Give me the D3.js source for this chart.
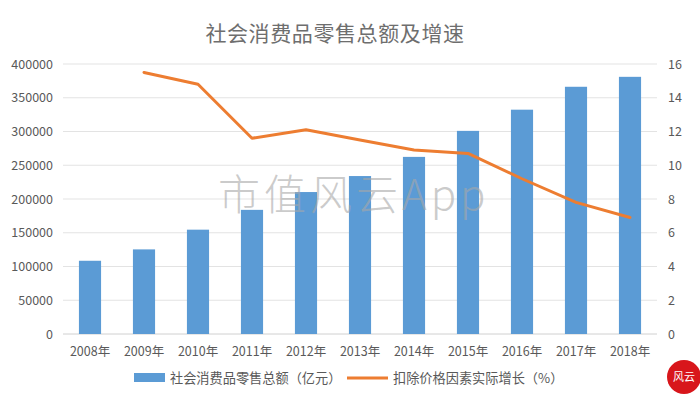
<!DOCTYPE html>
<html><head><meta charset="utf-8">
<script src="https://cdn.jsdelivr.net/npm/d3@7"></script>
<style>body{margin:0;background:#fff}svg{display:block}</style>
</head><body><div id="c"></div>
<script>
const years = ["2008年","2009年","2010年","2011年","2012年","2013年","2014年","2015年","2016年","2017年","2018年"];
const sales = [108488,125343,154554,183919,210307,234000,262394,300931,332316,366262,380987];
const growth = [null,15.5,14.8,11.6,12.1,11.5,10.9,10.7,9.2,7.8,6.9];
const leftTicks = [0,50000,100000,150000,200000,250000,300000,350000,400000];
const rightTicks = [0,2,4,6,8,10,12,14,16];
const title = "社会消费品零售总额及增速";
const legendLabels = ["社会消费品零售总额（亿元）","扣除价格因素实际增长（%）"];

const W=700,H=397;
const m={l:63,r:43,t:64,b:63};
const svg=d3.select("#c").append("svg").attr("width",W).attr("height",H);
const font="'Noto Sans CJK SC','Noto Sans',sans-serif";
const x=d3.scaleBand().domain(years).range([m.l,W-m.r]).paddingInner(0.59).paddingOuter(0.295);
const yL=d3.scaleLinear().domain([0,400000]).range([H-m.b,m.t]);
const yR=d3.scaleLinear().domain([0,16]).range([H-m.b,m.t]);

// grid
svg.append("g").selectAll("line").data(leftTicks).join("line")
  .attr("x1",m.l).attr("x2",W-m.r).attr("y1",d=>yL(d)).attr("y2",d=>yL(d))
  .attr("stroke",d=>d===0?"#d0d0d0":"#e3e3e3").attr("stroke-width",1);

// left axis
const gl=svg.append("g").attr("transform",`translate(${m.l-10},0)`)
  .call(d3.axisLeft(yL).tickValues(leftTicks).tickSize(0).tickPadding(0).tickFormat(d=>String(d)));
gl.select(".domain").remove();
gl.selectAll("text").attr("font-family",font).attr("font-size",12.5).attr("fill","#595959");

// right axis
const gr=svg.append("g").attr("transform",`translate(${W-m.r+11},0)`)
  .call(d3.axisRight(yR).tickValues(rightTicks).tickSize(0).tickPadding(0));
gr.select(".domain").remove();
gr.selectAll("text").attr("font-family",font).attr("font-size",12.5).attr("fill","#595959");

// bottom axis
const gb=svg.append("g").attr("transform",`translate(0,${H-m.b})`)
  .call(d3.axisBottom(x).tickSize(0).tickPadding(13));
gb.select(".domain").remove();
gb.selectAll("text").attr("font-family",font).attr("font-size",12.5).attr("fill","#595959");

// bars
svg.append("g").selectAll("rect").data(sales).join("rect")
  .attr("x",(d,i)=>x(years[i])).attr("width",x.bandwidth())
  .attr("y",d=>yL(d)).attr("height",d=>yL(0)-yL(d)).attr("fill","#5b9bd5");

// line
const line=d3.line().defined(d=>d!=null).x((d,i)=>x(years[i])+x.bandwidth()/2).y(d=>yR(d));
svg.append("path").datum(growth).attr("d",line).attr("fill","none")
  .attr("stroke","#ed7d31").attr("stroke-width",3).attr("stroke-linejoin","round").attr("stroke-linecap","round");

// watermark
svg.append("text").attr("x",218).attr("y",210).attr("font-family","'Noto Sans CJK SC',sans-serif")
  .attr("font-weight",300).attr("font-size",42).attr("letter-spacing",4)
  .attr("fill","#a8a8a8").attr("fill-opacity",0.6).text("市值风云App");

// title
svg.append("text").attr("x",335).attr("y",41).attr("text-anchor","middle")
  .attr("font-family",font).attr("font-size",21).attr("letter-spacing",0.6).attr("fill","#6e6e6e").text(title);

// legend
const lg=svg.append("g");
lg.append("rect").attr("x",134).attr("y",373).attr("width",31).attr("height",9).attr("fill","#5b9bd5");
lg.append("text").attr("x",170).attr("y",383).attr("font-family",font).attr("font-size",13.2).attr("fill","#595959").text(legendLabels[0]);
lg.append("line").attr("x1",347).attr("x2",388).attr("y1",378).attr("y2",378).attr("stroke","#ed7d31").attr("stroke-width",3);
lg.append("text").attr("x",393).attr("y",383).attr("font-family",font).attr("font-size",13.2).attr("fill","#595959").text(legendLabels[1]);

// logo
const lo=svg.append("g").attr("transform","translate(684,377)");
lo.append("circle").attr("r",17).attr("fill","#d8161b");
lo.append("text").attr("y",4).attr("text-anchor","middle").attr("font-family",font).attr("font-size",11).attr("fill","#fff").text("风云");
</script></body></html>
